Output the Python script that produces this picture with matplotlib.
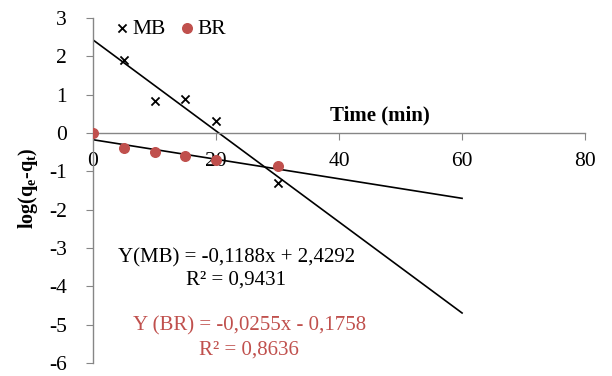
import numpy as np
import matplotlib.pyplot as plt

plt.rcParams['font.family'] = ['Liberation Serif', 'DejaVu Serif']
plt.rcParams['mathtext.fontset'] = 'custom'
plt.rcParams['mathtext.rm'] = 'Liberation Serif'
plt.rcParams['mathtext.bf'] = 'Liberation Serif:bold'
plt.rcParams['axes.unicode_minus'] = False

# kinetic data (pseudo-first-order)
t_mb = [5, 10, 15, 20, 30]
log_mb = [1.90, 0.83, 0.88, 0.30, -1.30]
t_br = [0, 5, 10, 15, 20, 30]
log_br = [0.00, -0.38, -0.50, -0.60, -0.70, -0.85]

# linear fits
slope_mb, icpt_mb, r2_mb = -0.1188, 2.4292, 0.9431
slope_br, icpt_br, r2_br = -0.0255, -0.1758, 0.8636

red = '#C0504D'
grey = '#868686'

fig = plt.figure(figsize=(6.12, 3.76), dpi=100)
ax = fig.add_axes([0.152, 0.035, 0.804, 0.917])

xfit = np.array([0, 60])
ax.plot(xfit, slope_mb * xfit + icpt_mb, color='black', lw=1.2, zorder=2)
ax.plot(xfit, slope_br * xfit + icpt_br, color='black', lw=1.2, zorder=2)

ax.scatter(t_mb, log_mb, marker='x', s=34, color='black', lw=1.3, label='MB', zorder=3)
ax.scatter(t_br, log_br, marker='o', s=48, color=red, label='BR', zorder=3)

ax.set_xlim(0, 80)
ax.set_ylim(-6, 3)
ax.set_xticks([0, 20, 40, 60, 80])
ax.set_yticks(range(-6, 4))

ax.spines['left'].set_position(('data', 0))
ax.spines['bottom'].set_position(('data', 0))
ax.spines['top'].set_visible(False)
ax.spines['right'].set_visible(False)
for s in ('left', 'bottom'):
    ax.spines[s].set_color(grey)
    ax.spines[s].set_linewidth(1.0)

ax.tick_params(axis='both', direction='out', length=5, color=grey, labelsize=15.5)
ax.tick_params(axis='x', pad=9)
ax.tick_params(axis='y', pad=14)

ax.text(46.6, 0.45, 'Time (min)', fontsize=15, fontweight='bold', ha='center', va='center')
fig.text(0.045, 0.5, r'log(q$_{\mathbf{e}}$-q$_{\mathbf{t}}$)', fontweight='bold',
         rotation=90, fontsize=14.5, ha='center', va='center')

ax.legend(loc='upper left', bbox_to_anchor=(0.01, 1.035), ncol=2, frameon=False,
          fontsize=15.5, handletextpad=0.0, columnspacing=0.5, borderaxespad=0.2,
          markerscale=1.0, handlelength=1.0)

ax.text(23.3, -3.25, 'Y(MB) = -0,1188x + 2,4292', fontsize=15, ha='center', va='center')
ax.text(23.3, -3.85, 'R² = 0,9431', fontsize=15, ha='center', va='center')
ax.text(25.4, -5.03, 'Y (BR) = -0,0255x - 0,1758', fontsize=15, ha='center', va='center', color=red)
ax.text(25.4, -5.66, 'R² = 0,8636', fontsize=15, ha='center', va='center', color=red)

fig.savefig('out.png', dpi=100)
